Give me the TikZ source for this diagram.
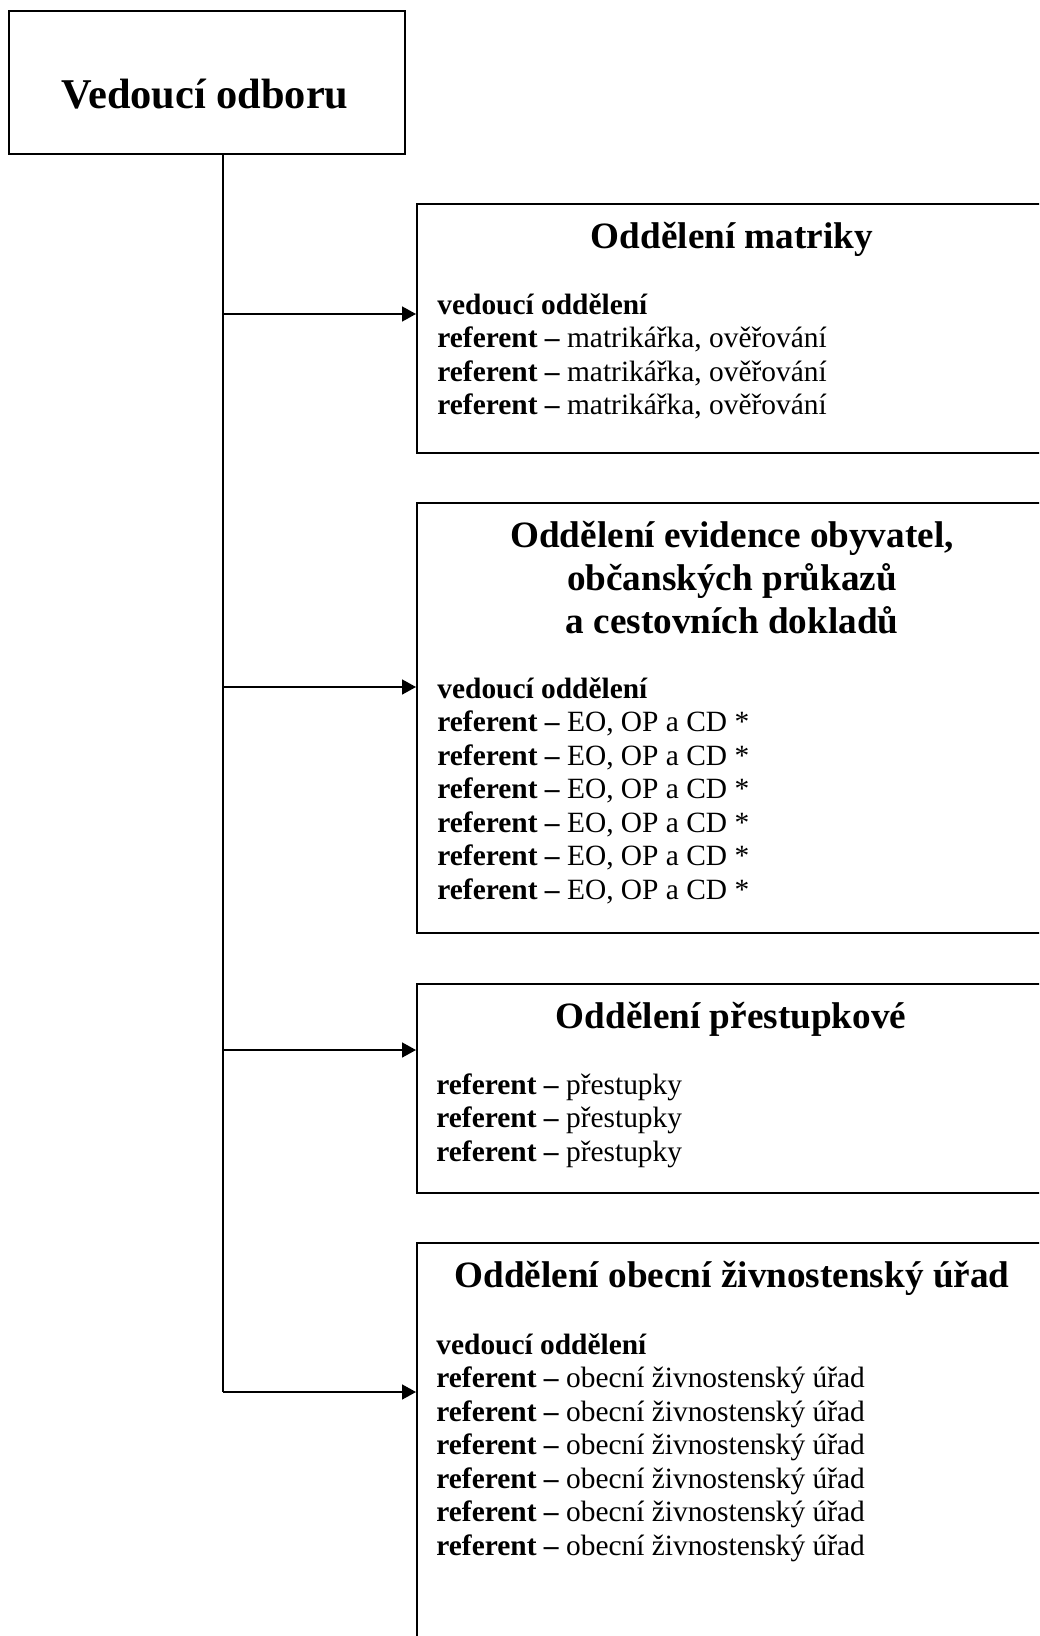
\documentclass[tikz,border=0pt]{standalone}
\usepackage{fontspec}
\setmainfont{Liberation Serif}
\usetikzlibrary{arrows.meta}

\tikzset{
	box/.style={draw, line width=1pt, anchor=north west, inner sep=0pt},
	hlava/.style={font=\bfseries\fontsize{21.2}{25}\selectfont, anchor=base, inner sep=0pt},
	nadpis/.style={font=\bfseries\fontsize{18.6}{21.5}\selectfont, align=center, anchor=base, inner sep=0pt},
	obsah/.style={font=\fontsize{14.7}{16.75}\selectfont, align=left, anchor=base west, inner sep=0pt},
	sipka/.style={-{Triangle[length=7pt,width=7.5pt]}, line width=0.8pt},
}

\begin{document}
\begin{tikzpicture}[x=0.5pt,y=-0.5pt]
	\useasboundingbox (0,0) rectangle (1039,1636);
	\clip (0,0) rectangle (1039,1636);

	% vedouci odboru
	\node[box, minimum width=198pt, minimum height=71.5pt] (vedouci) at (8,10) {};
	\node[hlava] (vedoucitext) at (205,109) {Vedoucí odboru};

	% oddeleni (base = posledni radek)
	\node[box, minimum width=316pt, minimum height=124.5pt] (m) at (416,203) {};
	\node[box, minimum width=316pt, minimum height=215pt] (e) at (416,502) {};
	\node[box, minimum width=316pt, minimum height=104.5pt] (p) at (416,983) {};
	\node[box, minimum width=316pt, minimum height=240pt] (z) at (416,1242) {};

	\node[nadpis] (mnadpis) at (732,249) {Oddělení matriky};
	\node[obsah] (mobsah) at (437,415) {\textbf{vedoucí oddělení}\\
		\textbf{referent –} matrikářka, ověřování\\
		\textbf{referent –} matrikářka, ověřování\\
		\textbf{referent –} matrikářka, ověřování};

	\node[nadpis] (enadpis) at (732,633) {Oddělení evidence obyvatel,\\občanských průkazů\\a cestovních dokladů};
	\node[obsah] (eobsah) at (437,899) {\textbf{vedoucí oddělení}\\
		\textbf{referent –} EO, OP a CD *\\
		\textbf{referent –} EO, OP a CD *\\
		\textbf{referent –} EO, OP a CD *\\
		\textbf{referent –} EO, OP a CD *\\
		\textbf{referent –} EO, OP a CD *\\
		\textbf{referent –} EO, OP a CD *};

	\node[nadpis] (pnadpis) at (731,1028) {Oddělení přestupkové};
	\node[obsah] (pobsah) at (436,1161) {\textbf{referent –} přestupky\\
		\textbf{referent –} přestupky\\
		\textbf{referent –} přestupky};

	\node[nadpis] (znadpis) at (732,1287) {Oddělení obecní živnostenský úřad};
	\node[obsah] (zobsah) at (436,1555) {\textbf{vedoucí oddělení}\\
		\textbf{referent –} obecní živnostenský úřad\\
		\textbf{referent –} obecní živnostenský úřad\\
		\textbf{referent –} obecní živnostenský úřad\\
		\textbf{referent –} obecní živnostenský úřad\\
		\textbf{referent –} obecní živnostenský úřad\\
		\textbf{referent –} obecní živnostenský úřad};

	% spojnice
	\coordinate (t1) at (223,314);
	\coordinate (t2) at (223,687);
	\coordinate (t3) at (223,1050);
	\coordinate (t4) at (223,1392);

	\draw[line width=0.8pt] (t1 |- vedouci.south) -- (t4);
	\draw[sipka] (t1) -- (t1 -| m.west);
	\draw[sipka] (t2) -- (t2 -| e.west);
	\draw[sipka] (t3) -- (t3 -| p.west);
	\draw[sipka] (t4) -- (t4 -| z.west);
\end{tikzpicture}
\end{document}
